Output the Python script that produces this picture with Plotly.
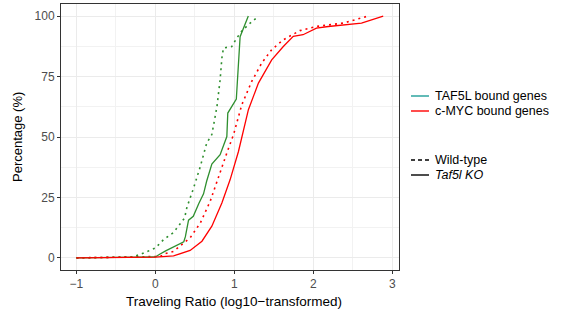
import plotly.graph_objects as go

# ---- data ----
taf5l_ko_x = [-1, 0, 0.06, 0.13, 0.36, 0.38, 0.42, 0.48, 0.55, 0.61, 0.65, 0.715, 0.82, 0.905, 0.917, 1.025, 1.073, 1.177]
taf5l_ko_y = [0, 0.4, 1.6, 2.9, 6.7, 8.8, 15.6, 17.2, 22.5, 26.5, 31.8, 38.8, 42.7, 50.2, 59.9, 65.7, 91.5, 100]

taf5l_wt_x = [-1, -0.29, -0.15, -0.06, 0, 0.105, 0.23, 0.37, 0.40, 0.48, 0.57, 0.65, 0.715, 0.78, 0.82, 0.842, 0.862, 0.967, 1.03, 1.10, 1.18, 1.30]
taf5l_wt_y = [0, 0.4, 2, 3.4, 4.1, 7.6, 10.5, 16.5, 21, 28.5, 37.9, 47.5, 51, 62.6, 73.7, 82.6, 86.8, 87.4, 90.9, 94, 96.5, 99.8]

myc_ko_x = [-1, 0, 0.23, 0.44, 0.59, 0.715, 0.842, 0.947, 1.052, 1.115, 1.178, 1.305, 1.473, 1.62, 1.746, 1.87, 2.04, 2.19, 2.38, 2.61, 2.885]
myc_ko_y = [0, 0.3, 0.8, 3.1, 6.9, 13.1, 22.7, 32.4, 44, 53, 61.3, 72.3, 81.9, 87.4, 91.6, 92.3, 95, 95.7, 96.4, 97.1, 100]

myc_wt_x = [-1, 0.06, 0.126, 0.23, 0.44, 0.57, 0.694, 0.8, 0.905, 0.99, 1.094, 1.22, 1.347, 1.473, 1.62, 1.83, 2.04, 2.38, 2.67]
myc_wt_y = [0, 0.6, 1.8, 2.7, 8.3, 14.5, 23.4, 33.7, 43.4, 51, 63.3, 73, 80.6, 86.1, 90.2, 94, 95.7, 97.1, 99.8]

x_ticks = [-1, 0, 1, 2, 3]
y_ticks = [0, 25, 50, 75, 100]

gene_labels = ["TAF5L bound genes", "c-MYC bound genes"]
geno_labels = ["Wild-type", "<i>Taf5l KO</i>"]
x_title = "Traveling Ratio (log10\u2212transformed)"
y_title = "Percentage (%)"

# ---- styling ----
W, H = 561, 320
L, R, T, B = 61, 162, 4, 50
GREEN = "#2f8f2f"
RED = "#ff0000"
TEAL = "#1f9e98"
DOT = "2px,4px"
FONT = "Liberation Sans, Arial, sans-serif"

fig = go.Figure()
fig.add_trace(go.Scatter(x=taf5l_wt_x, y=taf5l_wt_y, mode="lines",
                         line=dict(color=GREEN, width=1.6, dash=DOT), showlegend=False))
fig.add_trace(go.Scatter(x=myc_wt_x, y=myc_wt_y, mode="lines",
                         line=dict(color=RED, width=1.6, dash=DOT), showlegend=False))
fig.add_trace(go.Scatter(x=taf5l_ko_x, y=taf5l_ko_y, mode="lines",
                         line=dict(color=GREEN, width=1.3), showlegend=False))
fig.add_trace(go.Scatter(x=myc_ko_x, y=myc_ko_y, mode="lines",
                         line=dict(color=RED, width=1.3), showlegend=False))

pw = W - L - R
ph = H - T - B


def fx(px):
    return (px - L) / pw


def fy(py):
    return 1 - (py - T) / ph


shapes = []
annotations = []
leg_items = [
    (96, TEAL, None, gene_labels[0]),
    (111, RED, None, gene_labels[1]),
    (160, "#000000", "4px,3px", geno_labels[0]),
    (175, "#000000", None, geno_labels[1]),
]
for py, col, dash, txt in leg_items:
    shapes.append(dict(type="line", xref="paper", yref="paper",
                       x0=fx(411), x1=fx(429), y0=fy(py), y1=fy(py),
                       line=dict(color=col, width=1.4, dash=dash or "solid")))
    annotations.append(dict(text=txt, xref="paper", yref="paper",
                            x=fx(434), y=fy(py), xanchor="left", yanchor="middle",
                            showarrow=False, borderpad=0,
                            font=dict(family=FONT, size=12.5, color="#000000")))

# axis titles as annotations for exact placement
annotations.append(dict(text=x_title, xref="paper", yref="paper",
                        x=fx(234), y=fy(301), xanchor="center", yanchor="middle",
                        showarrow=False, font=dict(family=FONT, size=13.5, color="#000000")))
annotations.append(dict(text=y_title, xref="paper", yref="paper",
                        x=fx(17), y=fy(137), xanchor="center", yanchor="middle", textangle=-90,
                        showarrow=False, font=dict(family=FONT, size=13, color="#000000")))

axis_common = dict(
    showline=True, linecolor="#333333", linewidth=1, mirror=True,
    ticks="outside", ticklen=3, tickcolor="#333333", tickwidth=1,
    showgrid=True, gridcolor="#EBEBEB", gridwidth=1, zeroline=False,
    automargin=False,
    tickfont=dict(family=FONT, size=12, color="#4D4D4D"),
)

fig.update_layout(
    width=W, height=H,
    margin=dict(l=L, r=R, t=T, b=B, autoexpand=False),
    plot_bgcolor="white", paper_bgcolor="white",
    font=dict(family=FONT, color="#000000"),
    showlegend=False,
    shapes=shapes,
    annotations=annotations,
    xaxis=dict(range=[-1.195, 3.085], tickvals=x_ticks,
               minor=dict(dtick=0.5, tick0=-1, showgrid=True, gridcolor="#F2F2F2", gridwidth=1, ticks=""),
               **axis_common),
    yaxis=dict(range=[-5, 105], tickvals=y_ticks,
               minor=dict(dtick=12.5, tick0=0, showgrid=True, gridcolor="#F2F2F2", gridwidth=1, ticks=""),
               **axis_common),
)

fig.write_html("out.html",
               config={"displayModeBar": False},
               post_script="document.body.style.margin='0';document.body.style.padding='0';")
